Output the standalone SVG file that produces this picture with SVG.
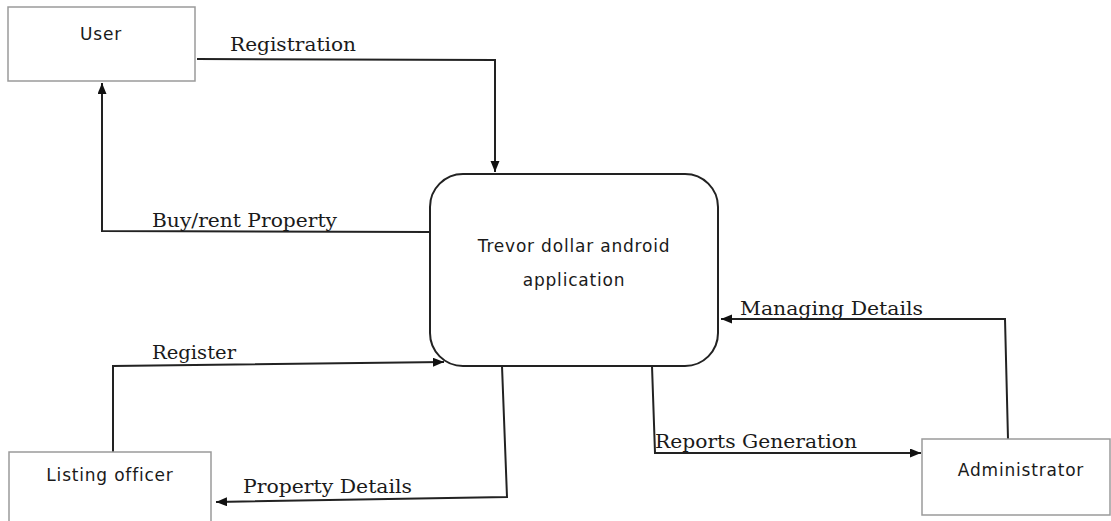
<svg xmlns="http://www.w3.org/2000/svg" width="1111" height="521" viewBox="0 0 1111 521">
  <style>
    .ext { fill: #ffffff; stroke: #9a9a9a; stroke-width: 1.5; }
    .proc { fill: #ffffff; stroke: #222222; stroke-width: 2; }
    .name { font-family: "DejaVu Sans", sans-serif; font-size: 17px; fill: #1a1a1a; letter-spacing: 0.8px; text-anchor: middle; }
    .flow { fill: none; stroke: #222222; stroke-width: 2; marker-end: url(#arrow); }
    .lbl { font-family: "DejaVu Serif", serif; font-size: 19px; fill: #1a1a1a; }
  </style>
  <defs>
    <marker id="arrow" markerUnits="userSpaceOnUse" markerWidth="12" markerHeight="10" refX="11" refY="4.5" orient="auto">
      <path d="M0,0 L11,4.5 L0,9 z" fill="#111111"/>
    </marker>
  </defs>

  <rect width="1111" height="521" fill="#ffffff"/>

  <!-- data flows -->
  <g id="connectors">
    <path class="flow" d="M197,59 L495,60 L495,172"/>
    <path class="flow" d="M430,232 L102,231 L102,83"/>
    <path class="flow" d="M113,452 L113,366 L444,362"/>
    <path class="flow" d="M502,366 L507,497 L216,502"/>
    <path class="flow" d="M652,366 L655,453 L921,453"/>
    <path class="flow" d="M1008,439 L1005,319 L721,319"/>
    <text class="lbl" x="230" y="51" textLength="126" lengthAdjust="spacingAndGlyphs">Registration</text>
    <text class="lbl" x="152" y="227" textLength="185" lengthAdjust="spacingAndGlyphs">Buy/rent Property</text>
    <text class="lbl" x="152" y="359" textLength="84" lengthAdjust="spacingAndGlyphs">Register</text>
    <text class="lbl" x="243" y="493" textLength="169" lengthAdjust="spacingAndGlyphs">Property Details</text>
    <text class="lbl" x="655" y="448" textLength="202" lengthAdjust="spacingAndGlyphs">Reports Generation</text>
    <text class="lbl" x="740" y="315" textLength="183" lengthAdjust="spacingAndGlyphs">Managing Details</text>
  </g>

  <g id="user">
    <rect class="ext" x="8" y="7" width="187" height="74"/>
    <text class="name" x="101" y="40">User</text>
  </g>

  <g id="app">
    <rect class="proc" x="430" y="174" width="288" height="192" rx="33" ry="33"/>
    <text class="name" x="574" y="252">Trevor dollar android</text>
    <text class="name" x="574" y="286">application</text>
  </g>

  <g id="listing-officer">
    <rect class="ext" x="9" y="452" width="202" height="72"/>
    <text class="name" x="110" y="481">Listing officer</text>
  </g>

  <g id="administrator">
    <rect class="ext" x="922" y="439" width="188" height="76"/>
    <text class="name" x="1021" y="476">Administrator</text>
  </g>
</svg>
